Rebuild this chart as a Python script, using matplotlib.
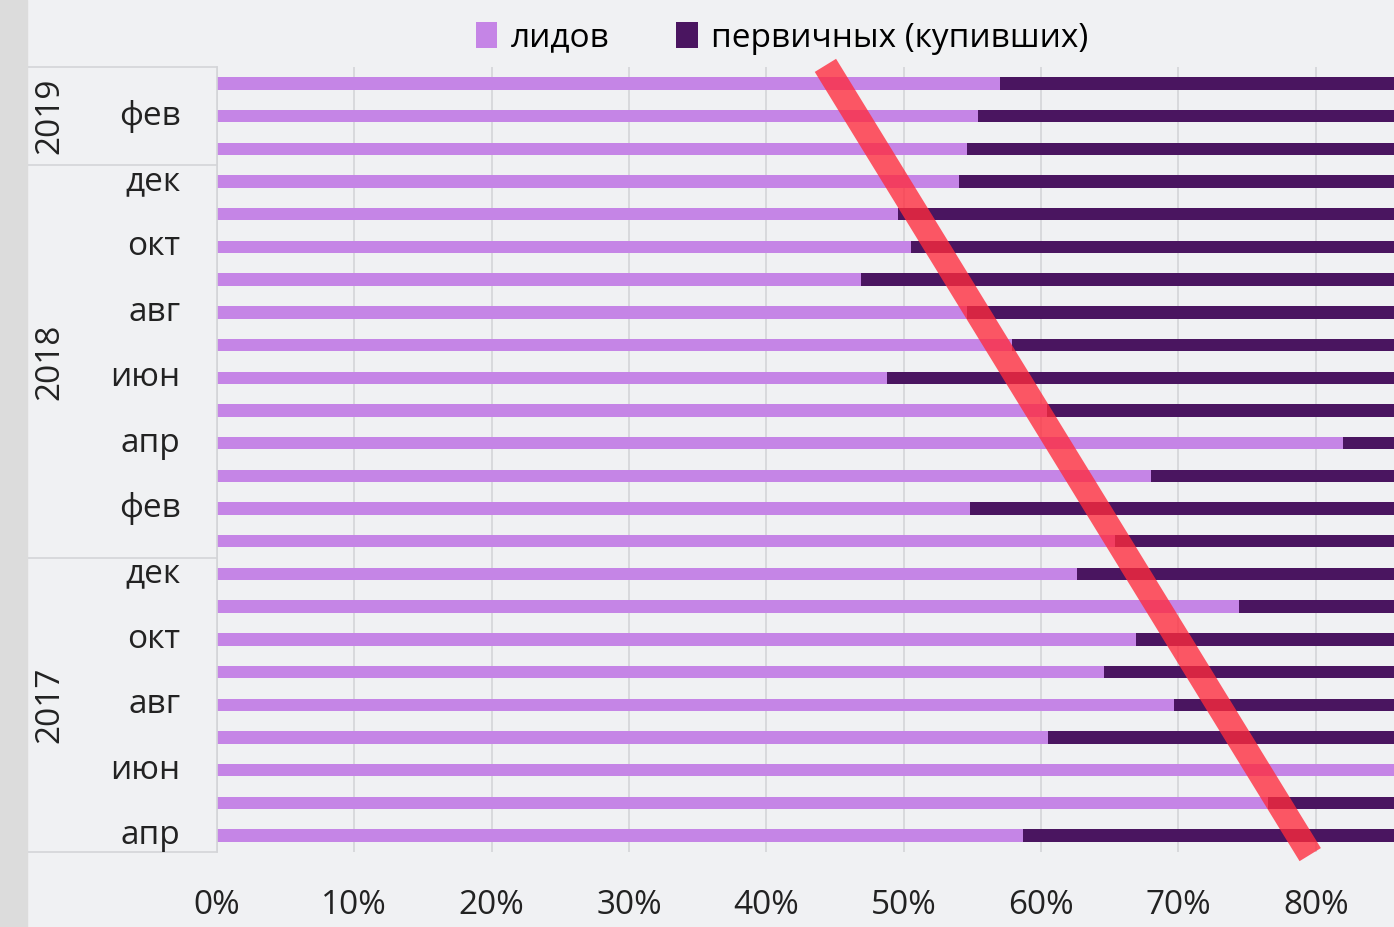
import matplotlib.pyplot as plt
from matplotlib.patches import Rectangle
from matplotlib.lines import Line2D

plt.rcParams['font.family'] = ['Open Sans', 'DejaVu Sans']

# months from apr 2017 (bottom) to mar 2019 (top)
months = ['апр', 'май', 'июн', 'июл', 'авг', 'сен', 'окт', 'ноя', 'дек',
          'янв', 'фев', 'мар', 'апр', 'май', 'июн', 'июл', 'авг', 'сен', 'окт', 'ноя', 'дек',
          'янв', 'фев', 'мар']
years = ['2017', '2018', '2019']
year_sizes = [9, 12, 3]

# share of leads; the rest up to 100% is primary (bought)
leads = [0.587, 0.765, 0.88, 0.605, 0.697, 0.646, 0.669, 0.744, 0.626,
         0.654, 0.548, 0.680, 0.820, 0.604, 0.488, 0.579, 0.546, 0.469, 0.505, 0.496, 0.540,
         0.546, 0.554, 0.570]
primary = [1 - v for v in leads]

# labels shown every other month
shown = [i for i in range(len(months)) if i % 2 == 0]

bg = '#f0f1f3'
c_lead = '#c585e6'
c_prim = '#4a1560'
grid_c = '#d4d5d8'
fs = 24

fig = plt.figure(figsize=(13.94, 9.27), dpi=100, facecolor=bg)
fig.patches.append(Rectangle((0, 0), 27 / 1394, 1, transform=fig.transFigure,
                             color='#dcdcdc', zorder=0))

ax = fig.add_axes([217 / 1394, 1 - 852 / 927, 1 - 217 / 1394, (852 - 67) / 927])
ax.set_facecolor(bg)

y = list(range(len(months)))
ax.barh(y, leads, height=0.38, color=c_lead, label='лидов', zorder=2)
ax.barh(y, primary, left=leads, height=0.38, color=c_prim,
        label='первичных (купивших)', zorder=2)

ax.set_xlim(0, 0.857)
ax.set_ylim(-0.5, len(months) - 0.5)
ax.set_xticks([i / 10 for i in range(9)])
ax.set_xticklabels([f'{i * 10}%' for i in range(9)], fontsize=fs, color='#222222')
ax.tick_params(axis='x', length=0, pad=27)
ax.set_yticks([])
ax.xaxis.grid(True, color=grid_c, linewidth=1.2, zorder=0)
for s in ['top', 'right', 'bottom']:
    ax.spines[s].set_visible(False)
ax.spines['left'].set_color(grid_c)
ax.spines['left'].set_linewidth(1.2)

# month labels
for i in shown:
    ax.text(-0.031, i, months[i], ha='right', va='center', fontsize=fs,
            color='#222222', transform=ax.get_yaxis_transform())

# year groups with separators
xsep = (27 - 217) / (1394 - 217)
start = -0.5
for yr, n in zip(years, year_sizes):
    end = start + n
    ax.add_line(Line2D([xsep, 0], [start, start], color=grid_c, linewidth=1.2,
                       transform=ax.get_yaxis_transform(), clip_on=False))
    ax.text((50 - 217) / (1394 - 217), (start + end) / 2, yr, rotation=90,
            ha='center', va='center', fontsize=fs, color='#222222',
            transform=ax.get_yaxis_transform())
    start = end
ax.add_line(Line2D([xsep, 0], [start, start], color=grid_c, linewidth=1.2,
                   transform=ax.get_yaxis_transform(), clip_on=False))

# red trend stroke
ax.plot([0.443, 0.796], [23.55, -0.58], color='#ff2a3c', alpha=0.78,
        linewidth=18, solid_capstyle='butt', clip_on=False, zorder=5)

fig.legend(loc='upper center', bbox_to_anchor=(0.561, 1.0), ncol=2, frameon=False,
           fontsize=fs, handlelength=0.65, handleheight=0.85, handletextpad=0.4,
           columnspacing=2.0, borderaxespad=0.25)

fig.savefig('out.png', dpi=100, facecolor=bg)
